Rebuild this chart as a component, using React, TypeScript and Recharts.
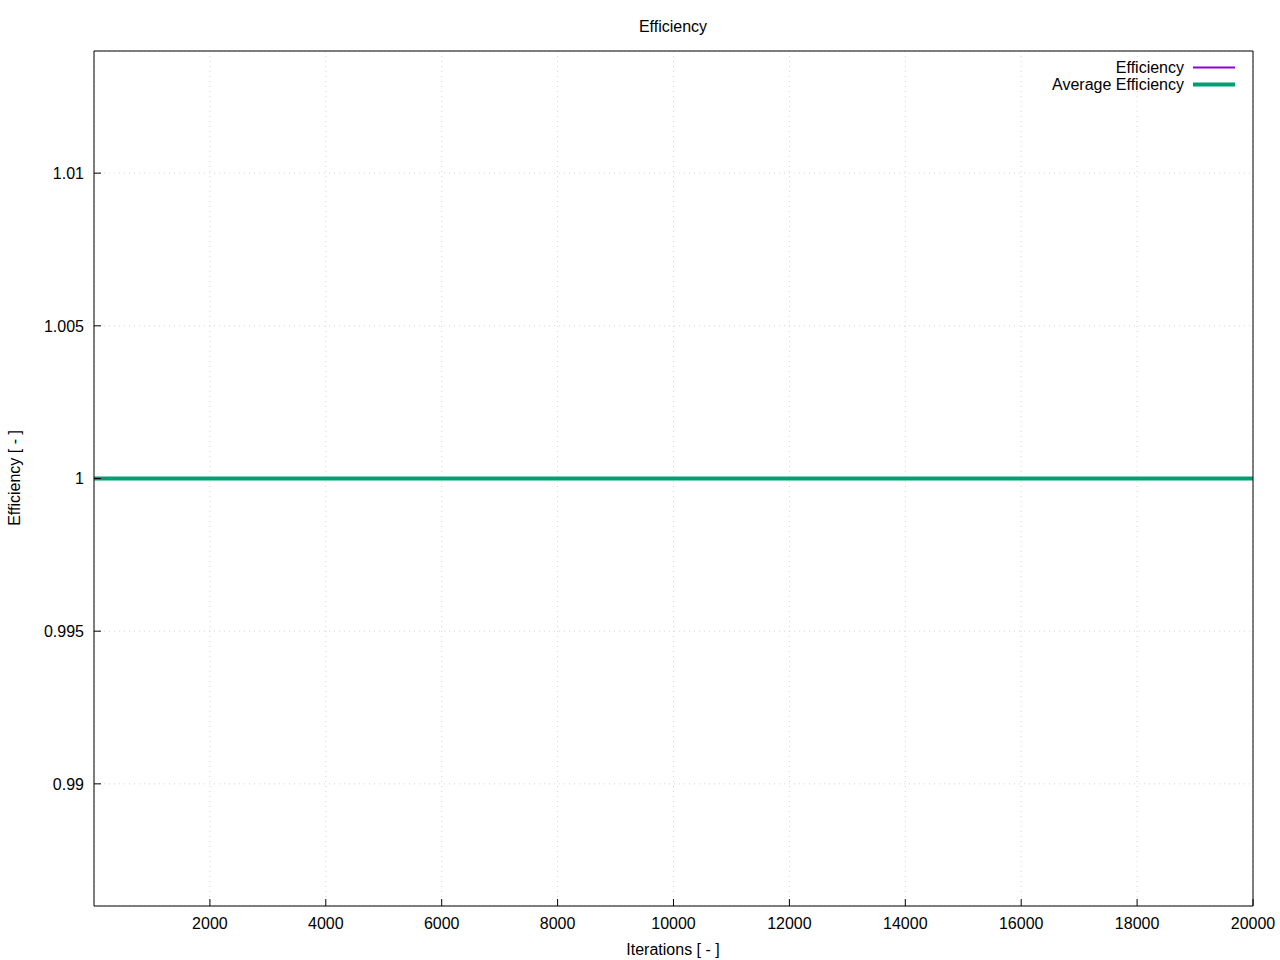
import { LineChart, Line, XAxis, YAxis, CartesianGrid, Legend } from 'recharts';

// values: both curves sit flat on 1 over the whole run
const iterations = [0, 2500, 5000, 7500, 10000, 12500, 15000, 17500, 20000];
const efficiency = [1, 1, 1, 1, 1, 1, 1, 1, 1];
const averageEfficiency = [1, 1, 1, 1, 1, 1, 1, 1, 1];

const xTicks = [2000, 4000, 6000, 8000, 10000, 12000, 14000, 16000, 18000, 20000];
const yTicks = [0.99, 0.995, 1, 1.005, 1.01];

const series = [
  { key: 'efficiency', name: 'Efficiency', color: '#9400d3', width: 2 },
  { key: 'average', name: 'Average Efficiency', color: '#009e73', width: 4 },
];

const data = iterations.map((it, i) => ({
  it,
  efficiency: efficiency[i],
  average: averageEfficiency[i],
}));

const FONT = "'Liberation Sans', Arial, sans-serif";
const tickStyle = { fill: '#000', fontSize: 16, fontFamily: FONT };

function LegendBox() {
  return (
    <div style={{ fontFamily: FONT, fontSize: 16, color: '#000' }}>
      {series.map((s) => (
        <div
          key={s.key}
          style={{ display: 'flex', justifyContent: 'flex-end', alignItems: 'center', height: 17, lineHeight: '17px' }}
        >
          <span>{s.name}</span>
          <svg width={42} height={17} style={{ marginLeft: 9, marginRight: 5 }}>
            <line x1={0} x2={42} y1={8.5} y2={8.5} stroke={s.color} strokeWidth={s.width} />
          </svg>
        </div>
      ))}
    </div>
  );
}

export default function App() {
  return (
    <div style={{ position: 'absolute', left: 0, top: 0, width: 1280, height: 960, background: '#fff', fontFamily: FONT }}>
      <LineChart width={1280} height={960} data={data} margin={{ top: 51, right: 27, bottom: 24, left: 34 }}>
        <CartesianGrid stroke="#d4d4d4" strokeDasharray="1 4" />
        <XAxis
          dataKey="it"
          type="number"
          domain={[0, 20000]}
          ticks={xTicks}
          height={30}
          stroke="#000"
          tick={tickStyle}
          tickSize={-7}
          tickMargin={19}
          allowDataOverflow
        />
        <XAxis
          xAxisId="top"
          dataKey="it"
          type="number"
          orientation="top"
          mirror
          domain={[0, 20000]}
          ticks={xTicks}
          stroke="#000"
          tick={false}
          tickSize={7}
          allowDataOverflow
        />
        <YAxis
          type="number"
          domain={[0.986, 1.014]}
          ticks={yTicks}
          width={60}
          stroke="#000"
          tick={tickStyle}
          tickSize={-7}
          tickMargin={17}
          tickFormatter={(v) => String(v)}
          allowDataOverflow
        />
        <YAxis
          yAxisId="right"
          type="number"
          orientation="right"
          mirror
          domain={[0.986, 1.014]}
          ticks={yTicks}
          stroke="#000"
          tick={false}
          tickSize={7}
          allowDataOverflow
        />
        <Legend
          layout="vertical"
          align="center"
          verticalAlign="middle"
          wrapperStyle={{ left: 1000, top: 59, width: 240 }}
          content={() => <LegendBox />}
        />
        {series.map((s) => (
          <Line
            key={s.key}
            type="linear"
            dataKey={s.key}
            name={s.name}
            stroke={s.color}
            strokeWidth={s.width}
            dot={false}
            activeDot={false}
            isAnimationActive={false}
          />
        ))}
      </LineChart>
      <div style={{ position: 'absolute', left: 0, width: 1346, top: 18, textAlign: 'center', fontSize: 16, lineHeight: '18px' }}>
        Efficiency
      </div>
      <div style={{ position: 'absolute', left: 0, width: 1346, top: 941, textAlign: 'center', fontSize: 16, lineHeight: '18px' }}>
        Iterations [ - ]
      </div>
      <div
        style={{
          position: 'absolute',
          left: 15,
          top: 478,
          fontSize: 16,
          lineHeight: '18px',
          whiteSpace: 'nowrap',
          transform: 'translate(-50%, -50%) rotate(-90deg)',
        }}
      >
        Efficiency [ - ]
      </div>
    </div>
  );
}
